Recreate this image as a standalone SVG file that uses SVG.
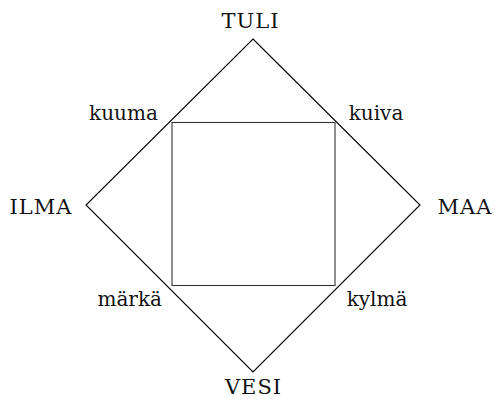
<svg xmlns="http://www.w3.org/2000/svg" width="495" height="399" viewBox="0 0 495 399">
<style>
.d{fill:none;stroke:#000;stroke-width:1.1}
.s{fill:none;stroke:#333;stroke-width:1.1}
.c{font-size:21px;letter-spacing:1px}
</style>
<rect width="495" height="399" fill="#fff"/>
<g id="connectors">
<polygon class="d" points="253,39 420,205 253,372 86,205"/>
<rect class="s" x="172" y="122.5" width="163" height="163"/>
</g>
<g font-family="'DejaVu Serif', serif" font-size="20" fill="#111" text-anchor="middle">
<g id="tuli"><text class="c" x="250.5" y="28">TULI</text></g>
<g id="maa"><text class="c" x="465" y="214">MAA</text></g>
<g id="vesi"><text class="c" x="253.5" y="394">VESI</text></g>
<g id="ilma"><text class="c" x="41" y="214">ILMA</text></g>
<g id="kuuma"><text x="123.5" y="120">kuuma</text></g>
<g id="kuiva"><text x="376" y="119.5">kuiva</text></g>
<g id="marka"><text x="129.7" y="306">märkä</text></g>
<g id="kylma"><text x="377" y="306">kylmä</text></g>
</g>
</svg>
